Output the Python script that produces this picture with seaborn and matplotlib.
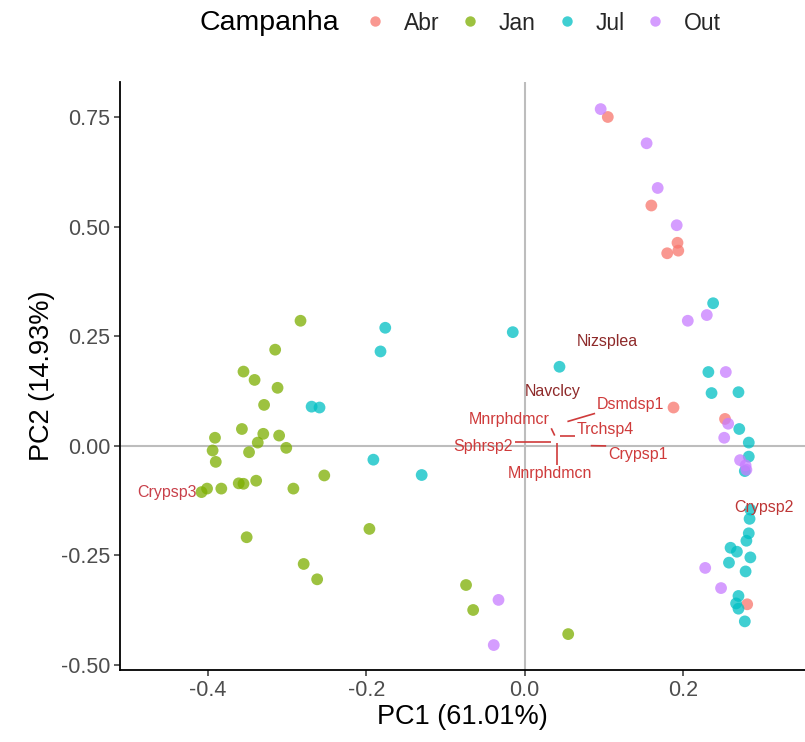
import numpy as np
import pandas as pd
import matplotlib
matplotlib.use("Agg")
import matplotlib.pyplot as plt
import seaborn as sns

# PCA scores (PC1, PC2) per sampling campaign
abr_pc1 = [0.105, 0.160, 0.193, 0.194, 0.180, 0.188, 0.253, 0.281]
abr_pc2 = [0.750, 0.548, 0.463, 0.445, 0.439, 0.087, 0.061, -0.362]

jan_pc1 = [-0.283, -0.315, -0.355, -0.341, -0.312, -0.329, -0.357, -0.330, -0.310, -0.391,
           -0.337, -0.301, -0.394, -0.348, -0.390, -0.253, -0.339, -0.355, -0.361, -0.383,
           -0.401, -0.408, -0.292, -0.196, -0.351, -0.279, -0.262, -0.074, -0.065, 0.055]
jan_pc2 = [0.285, 0.219, 0.169, 0.150, 0.132, 0.093, 0.038, 0.027, 0.023, 0.018,
           0.007, -0.005, -0.011, -0.015, -0.037, -0.068, -0.080, -0.087, -0.086, -0.098,
           -0.098, -0.106, -0.098, -0.190, -0.209, -0.270, -0.305, -0.318, -0.375, -0.430]

jul_pc1 = [-0.176, -0.182, -0.269, -0.259, -0.191, -0.015, 0.044, -0.130, 0.238, 0.232,
           0.236, 0.270, 0.271, 0.283, 0.283, 0.278, 0.285, 0.284, 0.283, 0.280,
           0.260, 0.268, 0.285, 0.258, 0.279, 0.270, 0.267, 0.270, 0.278]
jul_pc2 = [0.269, 0.215, 0.089, 0.087, -0.032, 0.259, 0.180, -0.067, 0.325, 0.168,
           0.120, 0.122, 0.038, 0.007, -0.025, -0.058, -0.146, -0.167, -0.200, -0.217,
           -0.233, -0.242, -0.255, -0.267, -0.287, -0.343, -0.360, -0.372, -0.401]

out_pc1 = [0.096, 0.154, 0.168, 0.192, 0.230, 0.206, 0.254, 0.257, 0.252, 0.272,
           0.279, 0.280, 0.228, 0.248, -0.033, -0.039]
out_pc2 = [0.768, 0.690, 0.588, 0.503, 0.298, 0.285, 0.168, 0.050, 0.018, -0.033,
           -0.045, -0.055, -0.279, -0.325, -0.352, -0.455]

campaigns = ["Abr", "Jan", "Jul", "Out"]
palette = ["#F8766D", "#7CAE00", "#00BFC4", "#C77CFF"]

# Species loadings and repelled label positions
species = ["Nizsplea", "Navclcy", "Dsmdsp1", "Mnrphdmcr", "Trchsp4", "Sphrsp2",
           "Crypsp1", "Mnrphdmcn", "Crypsp3", "Crypsp2"]
load_pc1 = [0.105, 0.035, 0.054, 0.038, 0.045, 0.033, 0.0835, 0.041, -0.452, 0.302]
load_pc2 = [0.238, 0.124, 0.055, 0.023, 0.021, 0.0075, 0.000, 0.005, -0.107, -0.141]
label_pc1 = [0.105, 0.035, 0.134, -0.020, 0.102, -0.052, 0.143, 0.032, -0.452, 0.302]
label_pc2 = [0.238, 0.124, 0.093, 0.059, 0.038, -0.002, -0.020, -0.064, -0.107, -0.141]
label_colors = ["#8E2A2A", "#8E2A2A", "#CF3B3B", "#CF3B3B", "#CF3B3B", "#CF3B3B",
                "#CF3B3B", "#CF3B3B", "#C8404A", "#BE3636"]

pc1_label = "PC1 (61.01%)"
pc2_label = "PC2 (14.93%)"

scores = pd.concat([
    pd.DataFrame({"PC1": abr_pc1, "PC2": abr_pc2, "Campanha": "Abr"}),
    pd.DataFrame({"PC1": jan_pc1, "PC2": jan_pc2, "Campanha": "Jan"}),
    pd.DataFrame({"PC1": jul_pc1, "PC2": jul_pc2, "Campanha": "Jul"}),
    pd.DataFrame({"PC1": out_pc1, "PC2": out_pc2, "Campanha": "Out"}),
], ignore_index=True)

sns.set_theme(style="white")
plt.rcParams["font.family"] = ["Liberation Sans", "DejaVu Sans"]

fig = plt.figure(figsize=(8.05, 7.42), dpi=100)
ax = fig.add_axes([0.149, 0.097, 0.851, 0.792])

ax.axhline(0, color="#BDBDBD", lw=1.5, zorder=0)
ax.axvline(0, color="#BDBDBD", lw=1.5, zorder=0)

sns.scatterplot(data=scores, x="PC1", y="PC2", hue="Campanha",
                hue_order=campaigns, palette=palette, s=72, alpha=0.75,
                edgecolor="none", linewidth=0, ax=ax, legend=True, zorder=2)

ax.set_xlim(-0.511, 0.354)
ax.set_ylim(-0.512, 0.829)
ax.set_xticks([-0.4, -0.2, 0.0, 0.2])
ax.set_xticklabels(["-0.4", "-0.2", "0.0", "0.2"])
ax.set_yticks([-0.50, -0.25, 0.0, 0.25, 0.50, 0.75])
ax.set_yticklabels(["-0.50", "-0.25", "0.00", "0.25", "0.50", "0.75"])
ax.tick_params(axis="both", which="major", direction="out", length=4.5, width=1.1,
               color="#333333", labelsize=15.5, labelcolor="#4D4D4D",
               bottom=True, left=True, pad=2.5)
ax.set_xlabel(pc1_label, fontsize=19.5, color="black", labelpad=2)
ax.set_ylabel(pc2_label, fontsize=19.5, color="black", labelpad=4)
for side in ["top", "right"]:
    ax.spines[side].set_visible(False)
for side in ["left", "bottom"]:
    ax.spines[side].set_color("black")
    ax.spines[side].set_linewidth(1.3)

# Species labels with leader segments to their loadings
texts = []
for name, tx, ty, col in zip(species, label_pc1, label_pc2, label_colors):
    t = ax.text(tx, ty, name, fontsize=11.5, color=col, ha="center", va="center", zorder=4)
    texts.append(t)

fig.canvas.draw()
renderer = fig.canvas.get_renderer()
inv = ax.transData.inverted()
for t, lx, ly, col in zip(texts, load_pc1, load_pc2, label_colors):
    bb = t.get_window_extent(renderer)
    px, py = ax.transData.transform((lx, ly))
    qx = min(max(px, bb.x0 - 2), bb.x1 + 2)
    qy = min(max(py, bb.y0 - 1), bb.y1 + 1)
    if np.hypot(qx - px, qy - py) > 6:
        p0 = inv.transform((px, py))
        p1 = inv.transform((qx, qy))
        ax.plot([p0[0], p1[0]], [p0[1], p1[1]], color=col, lw=1.2, zorder=3,
                solid_capstyle="butt")

# Legend across the top, title inline
handles, labels = ax.get_legend_handles_labels()
ax.get_legend().remove()
for h in handles:
    h.set_alpha(0.75)
    h.set_markersize(7.5)
leg_fs = 16.5
em = leg_fs * 100 / 72
fig.legend(handles, labels, loc="center left",
           bbox_to_anchor=((375 - 0.5 * em) / 805, 1 - 23 / 742),
           ncol=4, frameon=False, fontsize=leg_fs, handlelength=1.0,
           handletextpad=0.75, columnspacing=0.85, borderpad=0, borderaxespad=0)
fig.text(199 / 805, 1 - 23 / 742, "Campanha", fontsize=20.5, ha="left", va="center",
         color="black")

fig.savefig("out.png", dpi=100)
